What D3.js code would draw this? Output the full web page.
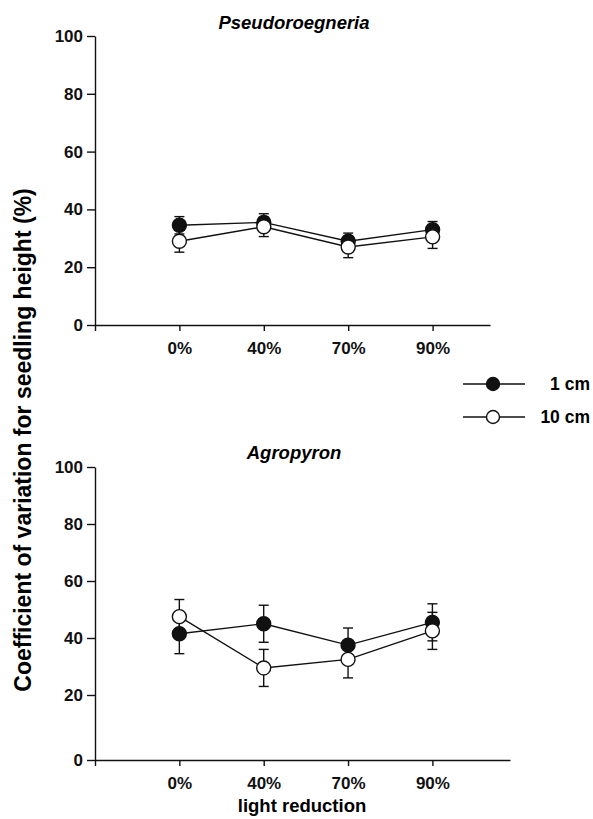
<!DOCTYPE html>
<html>
<head>
<meta charset="utf-8">
<script src="https://cdn.jsdelivr.net/npm/d3@7"></script>
<style>
body {margin:0; background:white;}
svg {font-family:"Liberation Sans", Arial, sans-serif; font-weight:bold;}
.axis path, .axis line {stroke:#111; stroke-width:1.4;}
.axis text {font-size:17px; fill:#111; font-weight:bold;}
</style>
</head>
<body>
<svg id="chart"></svg>
<script>

//data, one array per series//

var categories = ["0%", "40%", "70%", "90%"];
var yTicks = [0, 20, 40, 60, 80, 100];
var seriesNames = ["1 cm", "10 cm"];

var pseudoOne = [34.5, 35.5, 29, 33];
var pseudoOneErr = [3, 3, 2.8, 2.8];
var pseudoTen = [29, 34, 27, 30.5];
var pseudoTenErr = [3.8, 3.4, 3.7, 4];

var agroOne = [41.5, 45, 37.5, 45.5];
var agroOneErr = [7, 6.5, 6, 6.5];
var agroTen = [47.5, 29.5, 32.5, 42.5];
var agroTenErr = [6, 6.5, 6.5, 6.5];

//screen size//

var screen = {width: 593, height: 819}

var svg = d3.select("#chart")
            .attr("width", screen.width)
            .attr("height", screen.height)

var r = 7;
var capW = 5;

//index 0 on the x scale is the y axis itself, categories sit at 1..4//

var drawPanel = function(title, titleY, xScale, yScale, one, oneErr, ten, tenErr)
         {
         var g = svg.append("g");

         g.append("g")
          .classed("axis", true)
          .attr("transform", "translate(95,0)")
          .call(d3.axisLeft(yScale)
                  .tickValues(yTicks)
                  .tickSize(8)
                  .tickSizeOuter(0)
                  .tickPadding(4))

         g.append("g")
          .classed("axis", true)
          .attr("transform", "translate(0," + yScale(0) + ")")
          .call(d3.axisBottom(xScale)
                  .tickValues([0, 1, 2, 3, 4])
                  .tickFormat(function(i) { return i == 0 ? "" : categories[i - 1]; })
                  .tickSize(6)
                  .tickSizeOuter(0)
                  .tickPadding(11))

         g.append("text")
          .attr("x", 294)
          .attr("y", titleY)
          .attr("text-anchor", "middle")
          .attr("font-size", 18.5)
          .attr("font-style", "italic")
          .text(title)

         var series = [
                       {vals: one, err: oneErr, fill: "#111"},
                       {vals: ten, err: tenErr, fill: "white"}
                      ];

         //error bars first so the circles sit over them//

         series.forEach(function(s)
              {
              var eb = g.append("g")
                        .selectAll("g")
                        .data(s.vals)
                        .enter()
                        .append("g")
                        .attr("stroke", "#111")
                        .attr("stroke-width", 1.4)

              eb.append("line")
                .attr("x1", function(d, i) { return xScale(i + 1); })
                .attr("x2", function(d, i) { return xScale(i + 1); })
                .attr("y1", function(d, i) { return yScale(d + s.err[i]); })
                .attr("y2", function(d, i) { return yScale(d - s.err[i]); })

              eb.append("line")
                .attr("x1", function(d, i) { return xScale(i + 1) - capW; })
                .attr("x2", function(d, i) { return xScale(i + 1) + capW; })
                .attr("y1", function(d, i) { return yScale(d + s.err[i]); })
                .attr("y2", function(d, i) { return yScale(d + s.err[i]); })

              eb.append("line")
                .attr("x1", function(d, i) { return xScale(i + 1) - capW; })
                .attr("x2", function(d, i) { return xScale(i + 1) + capW; })
                .attr("y1", function(d, i) { return yScale(d - s.err[i]); })
                .attr("y2", function(d, i) { return yScale(d - s.err[i]); })
              })

         var line = d3.line()
                      .x(function(d, i) { return xScale(i + 1); })
                      .y(function(d) { return yScale(d); })

         series.forEach(function(s)
              {
              g.append("path")
               .attr("d", line(s.vals))
               .attr("fill", "none")
               .attr("stroke", "#111")
               .attr("stroke-width", 1.4)
              })

         series.forEach(function(s)
              {
              g.append("g")
               .selectAll("circle")
               .data(s.vals)
               .enter()
               .append("circle")
               .attr("cx", function(d, i) { return xScale(i + 1); })
               .attr("cy", function(d) { return yScale(d); })
               .attr("r", r)
               .attr("fill", s.fill)
               .attr("stroke", "#111")
               .attr("stroke-width", 1.4)
              })
         }

//the lower x axis runs a little further right//

var xTop = d3.scaleLinear()
             .domain([0, 4.68])
             .range([95, 490])

var xBottom = d3.scaleLinear()
                .domain([0, 4.92])
                .range([95, 510])

//top panel is plain linear, the bottom one has its 0 line pushed down a bit//

var yTop = d3.scaleLinear()
             .domain([0, 100])
             .range([325, 36])

var yBottom = d3.scaleLinear()
                .domain([0, 20, 100])
                .range([760, 695, 467])

drawPanel("Pseudoroegneria", 29, xTop, yTop, pseudoOne, pseudoOneErr, pseudoTen, pseudoTenErr);
drawPanel("Agropyron", 459, xBottom, yBottom, agroOne, agroOneErr, agroTen, agroTenErr);

//legend//

var legend = svg.append("g")
                .selectAll("g")
                .data(seriesNames)
                .enter()
                .append("g")
                .attr("transform", function(d, i) { return "translate(0," + (384 + i * 33) + ")"; })

legend.append("line")
      .attr("x1", 463)
      .attr("x2", 525)
      .attr("stroke", "#111")
      .attr("stroke-width", 1.4)

legend.append("circle")
      .attr("cx", 493)
      .attr("r", 6.5)
      .attr("fill", function(d, i) { return i == 0 ? "#111" : "white"; })
      .attr("stroke", "#111")
      .attr("stroke-width", 1.4)

legend.append("text")
      .attr("x", 590)
      .attr("y", 6)
      .attr("text-anchor", "end")
      .attr("font-size", 17.5)
      .text(function(d) { return d; })

//axis titles//

svg.append("text")
   .attr("transform", "translate(31,440) rotate(-90)")
   .attr("text-anchor", "middle")
   .attr("font-size", 23)
   .text("Coefficient of variation for seedling height (%)")

svg.append("text")
   .attr("x", 302)
   .attr("y", 812)
   .attr("text-anchor", "middle")
   .attr("font-size", 18.5)
   .text("light reduction")

</script>
</body>
</html>
